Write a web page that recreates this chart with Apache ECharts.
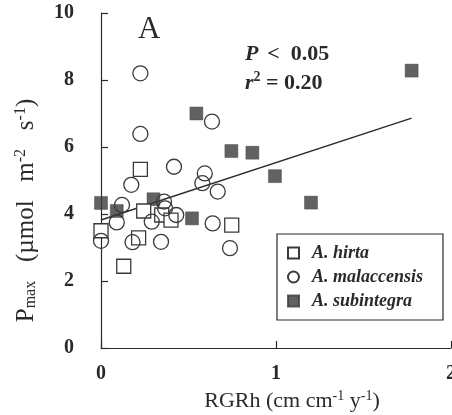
<!DOCTYPE html>
<html>
<head>
<meta charset="utf-8">
<script src="https://cdn.jsdelivr.net/npm/echarts@6/dist/echarts.min.js"></script>
<style>html,body{margin:0;padding:0;background:#fff}#c{width:452px;height:415px}</style>
</head>
<body>
<div id="c"></div>
<script>
var xTicks = [0, 1, 2];
var yTicks = [0, 2, 4, 6, 8, 10];
var hirtaX = [0, 0.13, 0.215, 0.225, 0.244, 0.347, 0.40, 0.747];
var hirtaY = [3.5, 2.44, 3.29, 5.33, 4.09, 3.97, 3.82, 3.67];
var malaccensisX = [0, 0.09, 0.12, 0.173, 0.18, 0.225, 0.225, 0.29, 0.343, 0.36, 0.366, 0.417, 0.43, 0.579, 0.593, 0.634, 0.638, 0.667, 0.737];
var malaccensisY = [3.2, 3.75, 4.27, 4.87, 3.16, 8.2, 6.39, 3.77, 3.17, 4.37, 4.17, 5.41, 3.97, 4.92, 5.21, 6.76, 3.72, 4.67, 2.98];
var subintegraX = [0, 0.09, 0.30, 0.52, 0.545, 0.745, 0.865, 0.994, 1.2, 1.775];
var subintegraY = [4.33, 4.09, 4.44, 3.87, 7.0, 5.88, 5.83, 5.13, 4.34, 8.28];
var fitX = [0, 1.775];
var fitY = [3.82, 6.86];

function zip(a, b) { return a.map(function (v, i) { return [v, b[i]]; }); }

var serif = 'Liberation Serif';
var ink = '#2a2a2a';
var chart = echarts.init(document.getElementById('c'));
chart.setOption({
  animation: false,
  backgroundColor: '#fff',
  grid: { left: 101, right: 1, top: 13, bottom: 67, containLabel: false, outerBoundsMode: 'none' },
  xAxis: {
    type: 'value', min: xTicks[0], max: xTicks[xTicks.length - 1], interval: 1,
    splitLine: { show: false },
    axisLine: { show: true, lineStyle: { color: ink, width: 1.2 } },
    axisTick: { show: true, inside: true, length: 7, lineStyle: { color: ink, width: 1.2 } },
    axisLabel: { fontFamily: serif, fontSize: 20, fontWeight: 'bold', color: ink, margin: 16, hideOverlap: false },
    name: '{t|RGRh (cm cm}{s|-1}{t| y}{s|-1}{t|)}',
    nameLocation: 'middle', nameGap: 37,
    nameTextStyle: {
      padding: [0, 0, 0, 32],
      rich: {
        t: { fontFamily: serif, fontSize: 22, color: ink, lineHeight: 24 },
        s: { fontFamily: serif, fontSize: 14, color: ink, verticalAlign: 'top', lineHeight: 24 }
      }
    }
  },
  yAxis: {
    type: 'value', min: yTicks[0], max: yTicks[yTicks.length - 1], interval: 2,
    splitLine: { show: false },
    axisLine: { show: true, lineStyle: { color: ink, width: 1.2 } },
    axisTick: { show: true, inside: true, length: 7, lineStyle: { color: ink, width: 1.2 } },
    axisLabel: { fontFamily: serif, fontSize: 20, fontWeight: 'bold', color: ink, margin: 27 },
    name: '{t|P}{b|max}{t|   (µmol   m}{s|-2}{t|   s}{s|-1}{t|)}',
    nameLocation: 'middle', nameGap: 62,
    nameTextStyle: {
      padding: [0, 60, 0, 0],
      rich: {
        t: { fontFamily: serif, fontSize: 25, color: ink, lineHeight: 26 },
        b: { fontFamily: serif, fontSize: 16, color: ink, verticalAlign: 'bottom', lineHeight: 26 },
        s: { fontFamily: serif, fontSize: 16, color: ink, verticalAlign: 'top', lineHeight: 26 }
      }
    }
  },
  legend: {
    orient: 'vertical', left: 277, top: 234,
    padding: [10, 20, 10, 10], itemGap: 6, itemWidth: 11, itemHeight: 11,
    borderColor: ink, borderWidth: 1.2,
    textStyle: { fontFamily: serif, fontSize: 18, fontWeight: 'bold', fontStyle: 'italic', color: ink, padding: [0, 0, 0, 8] },
    data: ['A. hirta', 'A. malaccensis', 'A. subintegra']
  },
  series: [
    {
      name: 'fit', type: 'line', data: zip(fitX, fitY), symbol: 'none', silent: true,
      lineStyle: { color: ink, width: 1.4 }, z: 1
    },
    {
      name: 'A. hirta', type: 'scatter', symbol: 'rect', symbolSize: 14, data: zip(hirtaX, hirtaY),
      itemStyle: { color: '#fff', borderColor: '#3a3a3a', borderWidth: 1.3, opacity: 1 }, z: 3
    },
    {
      name: 'A. malaccensis', type: 'scatter', symbol: 'circle', symbolSize: 15, data: zip(malaccensisX, malaccensisY),
      itemStyle: { color: 'rgba(255,255,255,0)', borderColor: '#3a3a3a', borderWidth: 1.3, opacity: 1 }, z: 3
    },
    {
      name: 'A. subintegra', type: 'scatter', symbol: 'rect', symbolSize: 13, data: zip(subintegraX, subintegraY),
      itemStyle: { color: '#3b3b3b', borderColor: '#3b3b3b', borderWidth: 0.5 }, z: 2
    }
  ],
  graphic: [
    { type: 'text', left: 138, top: 14, style: { text: 'A', fontFamily: serif, fontSize: 31, fill: ink } },
    { type: 'text', left: 245, top: 43, style: {
      text: '{i|P} {n| <  0.05}',
      rich: {
        i: { fontFamily: serif, fontSize: 22, fontWeight: 'bold', fontStyle: 'italic', fill: ink },
        n: { fontFamily: serif, fontSize: 22, fontWeight: 'bold', fill: ink }
      } } },
    { type: 'text', left: 245, top: 70, style: {
      text: '{i|r}{s|2}{n| = 0.20}',
      rich: {
        i: { fontFamily: serif, fontSize: 22, fontWeight: 'bold', fontStyle: 'italic', fill: ink, lineHeight: 26 },
        s: { fontFamily: serif, fontSize: 14, fontWeight: 'bold', fill: ink, verticalAlign: 'top', lineHeight: 26 },
        n: { fontFamily: serif, fontSize: 22, fontWeight: 'bold', fill: ink, lineHeight: 26 }
      } } }
  ]
});
</script>
</body>
</html>
